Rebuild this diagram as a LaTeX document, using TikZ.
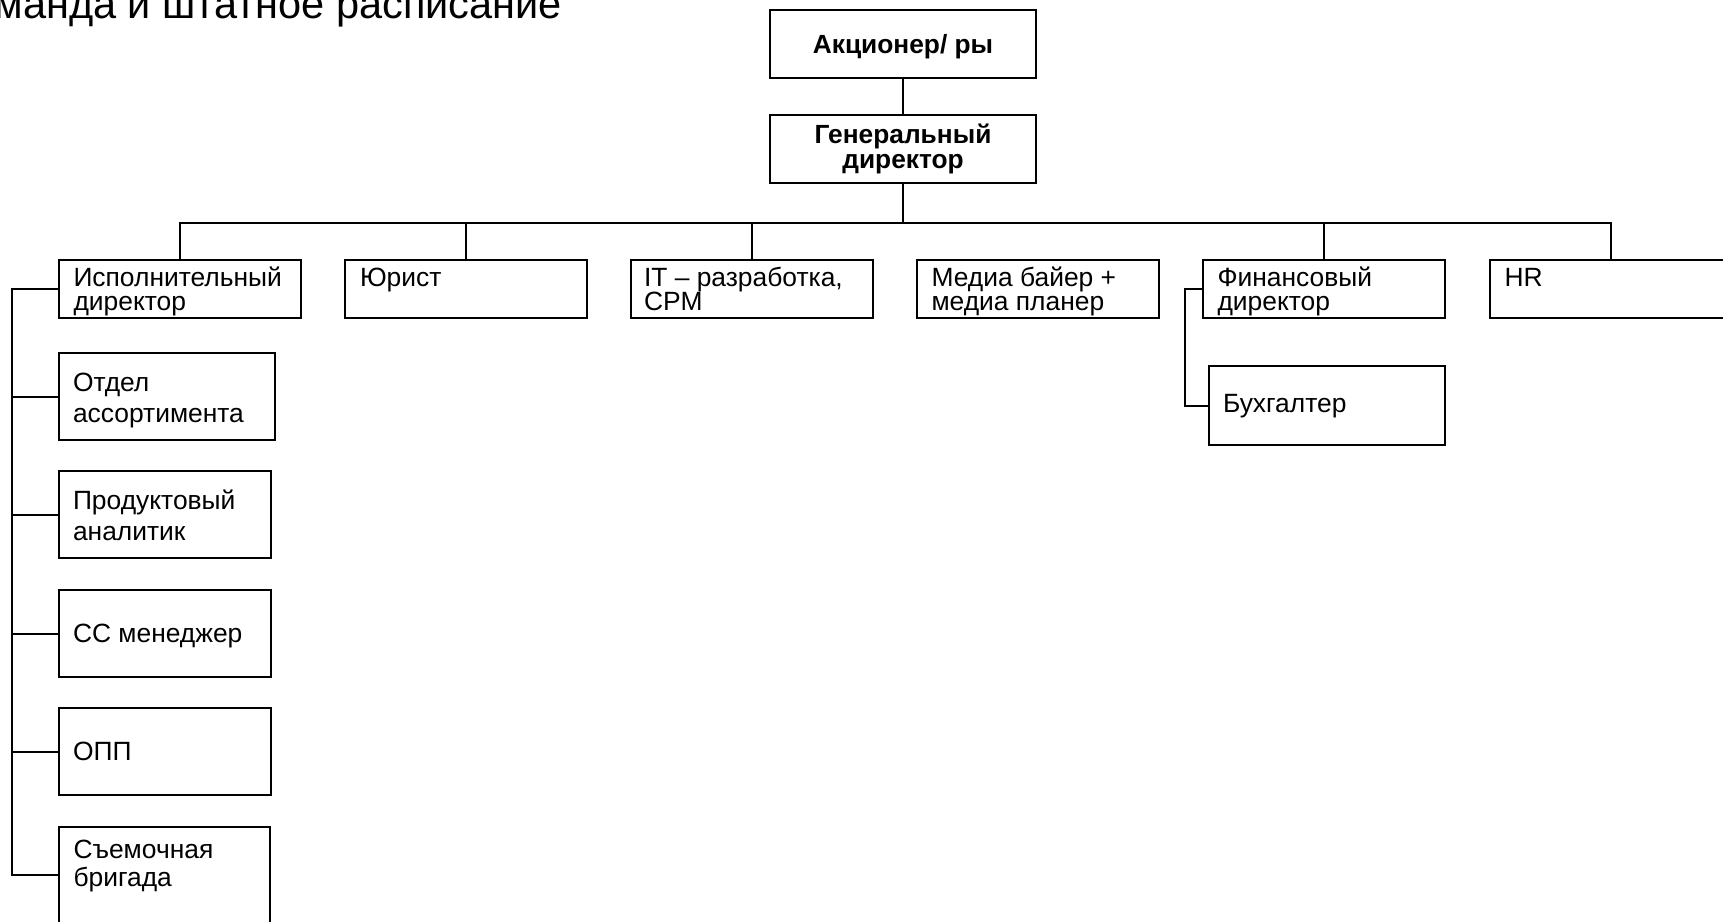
\documentclass[tikz,border=0pt]{standalone}
\usepackage{fontspec}
\setmainfont{Liberation Sans}
\usetikzlibrary{calc}
\newcommand{\lifttop}[1]{\rule{0pt}{#1pt}}
\begin{document}
\begin{tikzpicture}[x=1pt,y=-1pt,
  bx/.style={draw=black, line width=2pt, rectangle, inner sep=0pt, outer sep=0pt, anchor=north west},
  rowbox/.style={bx, minimum width=242pt, minimum height=58pt},
  topbox/.style={bx, minimum width=266pt, minimum height=68pt},
  subbox/.style={bx, minimum width=212pt, minimum height=87pt},
  lbl/.style={inner sep=0pt, outer sep=0pt, anchor=north west, align=left, font=\fontsize{26.4}{24}\selectfont},
  sublbl/.style={lbl, font=\fontsize{26.4}{31}\selectfont},
  boldlbl/.style={inner sep=0pt, outer sep=0pt, anchor=north, align=center, font=\fontsize{26.3}{25}\selectfont\bfseries},
  conn/.style={line width=2pt, line cap=rect}
]
\useasboundingbox (0,0) rectangle (1723,921);
\fill[white] (0,0) rectangle (1723,921);
\clip (0,0) rectangle (1723,921);

% title
\node[inner sep=0pt, anchor=base east, font=\fontsize{41.5}{41.5}\selectfont] (title) at (562,18.5) {манда и штатное расписание};

% top boxes
\node[topbox] (akc) at (770,10) {};
\node[boldlbl] (akcT) at (akc.north) {\lifttop{43}Акционер/ ры};
\node[topbox] (gen) at (770,115) {};
\node[boldlbl] (genT) at (gen.north) {\lifttop{28}Генеральный\\директор};

% row boxes
\node[rowbox] (isp) at (58.5,260) {};
\node[rowbox] (yur) at (345,260) {};
\node[rowbox] (it)  at (631,260) {};
\node[rowbox] (med) at (917,260) {};
\node[rowbox] (fin) at (1203,260) {};
\node[rowbox] (hr)  at (1490,260) {};

\node[lbl] (ispT) at ($(isp.north west)+(15,0)$) {\lifttop{26.5}Исполнительный\\директор};
\node[lbl] (yurT) at ($(yur.north west)+(15,0)$) {\lifttop{26.5}Юрист};
\node[lbl] (itT)  at ($(it.north west)+(13,0)$)  {\lifttop{26.5}IT – разработка,\\CPM};
\node[lbl] (medT) at ($(med.north west)+(14.5,0)$) {\lifttop{26.5}Медиа байер +\\медиа планер};
\node[lbl] (finT) at ($(fin.north west)+(14.5,0)$) {\lifttop{26.5}Финансовый\\директор};
\node[lbl] (hrT)  at ($(hr.north west)+(14.5,0)$)  {\lifttop{26.5}HR};

% accountant
\node[bx, minimum width=236pt, minimum height=79pt] (buh) at (1209,366) {};
\node[lbl] (buhT) at ($(buh.north west)+(14,0)$) {\lifttop{46}Бухгалтер};

% left column
\node[subbox, minimum width=216.5pt] (otd) at (58.5,353) {};
\node[subbox] (prod) at (58.5,471) {};
\node[subbox] (cc)   at (58.5,590) {};
\node[subbox] (opp)  at (58.5,708) {};
\node[subbox, minimum width=211pt, minimum height=96pt] (sem) at (58.5,827) {};

\node[sublbl] (otdT)  at ($(otd.north west)+(14.5,0)$)  {\lifttop{38}Отдел\\ассортимента};
\node[sublbl] (prodT) at ($(prod.north west)+(14.5,0)$) {\lifttop{38}Продуктовый\\аналитик};
\node[sublbl] (ccT)   at ($(cc.north west)+(14.5,0)$)   {\lifttop{52.5}СС менеджер};
\node[sublbl] (oppT)  at ($(opp.north west)+(14.5,0)$)  {\lifttop{52.5}ОПП};
\node[sublbl, font=\fontsize{26.4}{28}\selectfont] (semT) at ($(sem.north west)+(15,0)$) {\lifttop{31}Съемочная\\бригада};

% connectors
\coordinate (bus) at (903,223);
\coordinate (ls) at (12,289);
\draw[conn] (akc.south) -- (gen.north);
\draw[conn] (gen.south) -- (bus);
\draw[conn] (isp.north) |- (bus) -| (hr.north);
\draw[conn] (yur.north) -- (yur.north |- bus);
\draw[conn] (it.north) -- (it.north |- bus);
\draw[conn] (fin.north) -- (fin.north |- bus);

\draw[conn] (isp.west) -- (isp.west -| ls) |- (sem.west);
\draw[conn] (otd.west) -- (otd.west -| ls);
\draw[conn] (prod.west) -- (prod.west -| ls);
\draw[conn] (cc.west) -- (cc.west -| ls);
\draw[conn] (opp.west) -- (opp.west -| ls);

\draw[conn] (fin.west) -- ++(-18.5,0) |- (buh.west);
\end{tikzpicture}
\end{document}
